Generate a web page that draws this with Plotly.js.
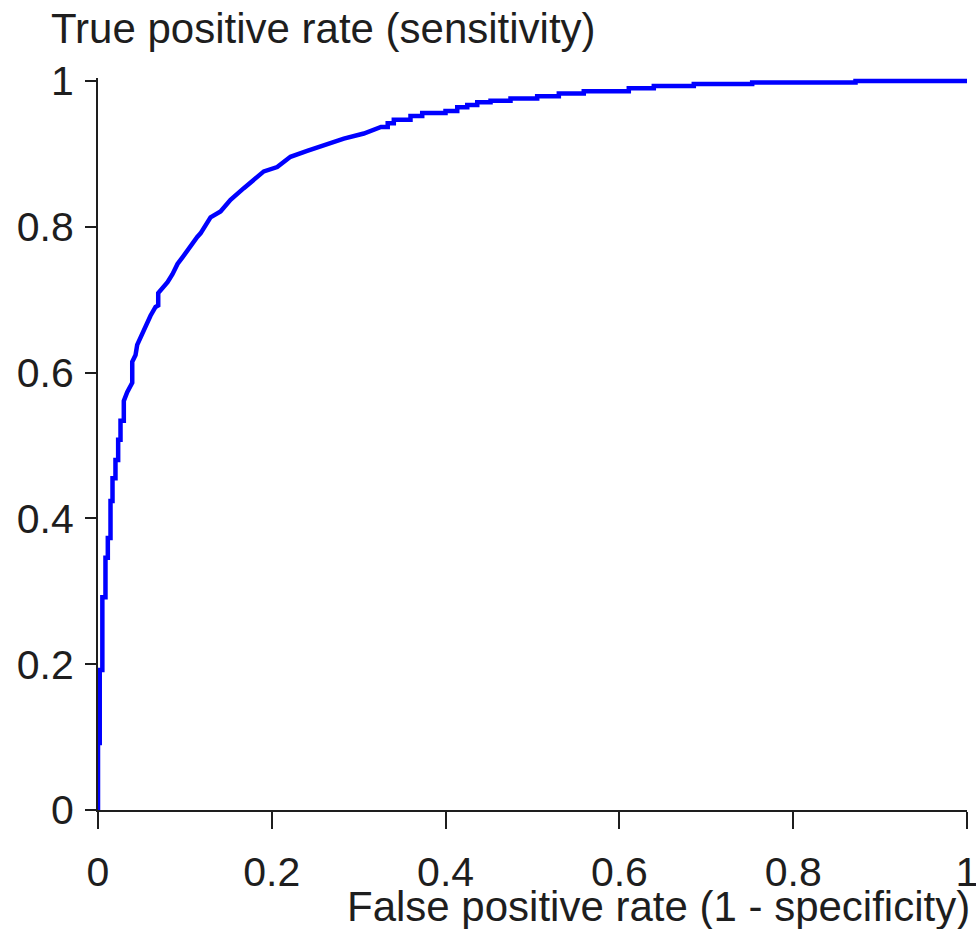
<!DOCTYPE html>
<html>
<head>
<meta charset="utf-8">
<script src="https://cdn.plot.ly/plotly-3.0.1.min.js"></script>
<style>
  html, body { margin: 0; padding: 0; background: #fff; }
  #chart { width: 976px; height: 929px; }
</style>
</head>
<body>
<div id="chart"></div>
<script>
// ROC curve: false positive rate (1 - specificity) vs true positive rate (sensitivity)
const fpr = [
  0, 0, 0.002, 0.002, 0.005, 0.005, 0.0086, 0.0086, 0.0113, 0.0113,
  0.0144, 0.0144, 0.0167, 0.0167, 0.0201, 0.0201, 0.0232, 0.0232, 0.0259, 0.0259,
  0.0297, 0.0297, 0.0336, 0.0374, 0.0394, 0.0394, 0.0432, 0.0451, 0.0489, 0.0527,
  0.0566, 0.0604, 0.0662, 0.0693, 0.0693, 0.0742, 0.08, 0.0857, 0.0915, 0.0972,
  0.103, 0.1142, 0.118, 0.1295, 0.141, 0.1525, 0.1678, 0.1908, 0.2062, 0.2215,
  0.2407, 0.2598, 0.2829, 0.3059, 0.3257, 0.3334, 0.3334, 0.3404, 0.3404, 0.3596,
  0.3596, 0.3731, 0.3731, 0.3999, 0.3999, 0.4134, 0.4134, 0.4249, 0.4249, 0.4364,
  0.4364, 0.4517, 0.4517, 0.4747, 0.4747, 0.5054, 0.5054, 0.5303, 0.5303, 0.559,
  0.559, 0.6108, 0.6108, 0.6396, 0.6396, 0.6856, 0.6856, 0.7528, 0.7528, 0.8717,
  0.8717, 1.0
];
const tpr = [
  0, 0.092, 0.092, 0.192, 0.192, 0.292, 0.292, 0.346, 0.346, 0.373,
  0.373, 0.424, 0.424, 0.455, 0.455, 0.48, 0.48, 0.508, 0.508, 0.534,
  0.534, 0.561, 0.573, 0.583, 0.586, 0.615, 0.624, 0.638, 0.648, 0.657,
  0.669, 0.678, 0.69, 0.692, 0.709, 0.715, 0.724, 0.735, 0.749, 0.758,
  0.768, 0.786, 0.791, 0.813, 0.821, 0.837, 0.853, 0.876, 0.882, 0.896,
  0.904, 0.912, 0.921, 0.928, 0.937, 0.937, 0.942, 0.942, 0.947, 0.947,
  0.952, 0.952, 0.956, 0.956, 0.959, 0.959, 0.964, 0.964, 0.967, 0.967,
  0.971, 0.971, 0.973, 0.973, 0.976, 0.976, 0.979, 0.979, 0.983, 0.983,
  0.986, 0.986, 0.99, 0.99, 0.993, 0.993, 0.996, 0.996, 0.998, 0.998,
  1.0, 1.0
];

const tickValues = [0, 0.2, 0.4, 0.6, 0.8, 1];
const tickLabels = ['0', '0.2', '0.4', '0.6', '0.8', '1'];

const xTitle = 'False positive rate (1 - specificity)';
const yTitle = 'True positive rate (sensitivity)';

const FONT = 'Liberation Sans, Arial, sans-serif';
const INK = '#1e1e1e';

const trace = {
  x: fpr,
  y: tpr,
  type: 'scatter',
  mode: 'lines',
  line: { color: '#0000ff', width: 4.5, shape: 'linear' },
  hoverinfo: 'x+y'
};

const layout = {
  width: 976,
  height: 929,
  margin: { l: 98, r: 9, t: 78, b: 119, pad: 0 },
  paper_bgcolor: '#ffffff',
  plot_bgcolor: '#ffffff',
  showlegend: false,
  font: { family: FONT, size: 41, color: INK },
  xaxis: {
    range: [0, 1],
    tickvals: tickValues,
    ticktext: tickLabels,
    ticks: 'outside',
    ticklen: 17,
    tickwidth: 2,
    tickcolor: INK,
    ticklabelstandoff: 8,
    ticklabeloverflow: 'allow',
    showline: true,
    linecolor: INK,
    linewidth: 2,
    showgrid: false,
    zeroline: false,
    tickfont: { family: FONT, size: 41, color: INK },
    fixedrange: true
  },
  yaxis: {
    range: [0, 732 / 729],
    tickvals: tickValues,
    ticktext: tickLabels,
    ticks: 'outside',
    ticklen: 11,
    tickwidth: 2,
    tickcolor: INK,
    ticklabelstandoff: 3,
    ticklabeloverflow: 'allow',
    showline: true,
    linecolor: INK,
    linewidth: 2,
    showgrid: false,
    zeroline: false,
    tickfont: { family: FONT, size: 41, color: INK },
    fixedrange: true
  },
  annotations: [
    {
      text: yTitle,
      xref: 'paper', yref: 'paper',
      x: (49 - 98) / 869, y: (810 - 28) / 732,
      xanchor: 'left', yanchor: 'middle',
      showarrow: false,
      font: { family: FONT, size: 42, color: INK }
    },
    {
      text: xTitle,
      xref: 'paper', yref: 'paper',
      x: (972 - 98) / 869, y: (810 - 906) / 732,
      xanchor: 'right', yanchor: 'middle',
      showarrow: false,
      font: { family: FONT, size: 42, color: INK }
    }
  ]
};

Plotly.newPlot('chart', [trace], layout, { displayModeBar: false, staticPlot: true });
</script>
</body>
</html>
